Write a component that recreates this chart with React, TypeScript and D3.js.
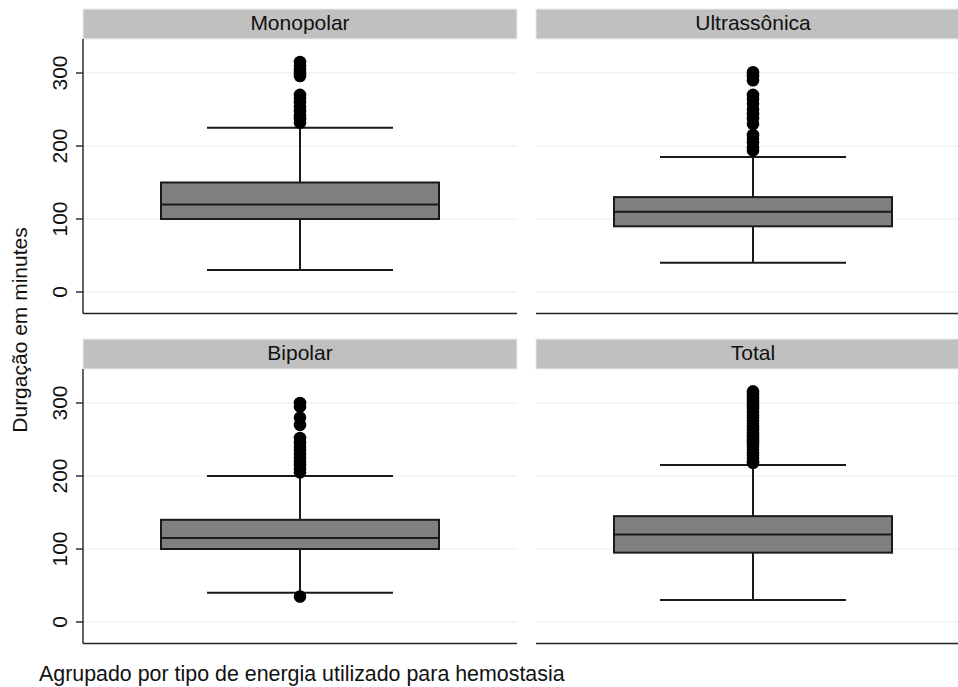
import * as d3 from "d3";

// panels in reading order (row by row)
const panelNames = ["Monopolar", "Ultrassônica", "Bipolar", "Total"];

// box statistics, minutes
const lowerWhisker = [30, 40, 40, 30];
const quartile1 = [100, 90, 100, 95];
const medians = [120, 110, 115, 120];
const quartile3 = [150, 130, 140, 145];
const upperWhisker = [225, 185, 200, 215];

// outside values
const outliersMonopolar = [315, 310, 305, 300, 296, 270, 265, 260, 254, 248, 242, 237, 232];
const outliersUltrassonica = [301, 296, 290, 270, 264, 258, 250, 244, 238, 230, 215, 210, 205, 198, 194];
const outliersBipolar = [300, 295, 280, 270, 252, 246, 240, 235, 230, 225, 220, 215, 210, 205, 35];
const outliersTotal = [
  316, 312, 308, 304, 300, 296, 292, 288, 284, 280, 276, 272, 268, 264, 260, 256,
  252, 248, 244, 240, 236, 232, 228, 224, 220, 218,
];
const outliers = [outliersMonopolar, outliersUltrassonica, outliersBipolar, outliersTotal];

const yTicks = [0, 100, 200, 300];

const yTitle = "Durgação em minutes";
const caption = "Agrupado por tipo de energia utilizado para hemostasia";

const W = 958;
const H = 687;
const FONT = "'Liberation Sans', Arial, Helvetica, sans-serif";

const colLeft = [83, 536];
const rowTop = [9, 339];
const panelW = 434;
const stripH = 30;
const plotH = 274.5;

function Panel({ i }: { i: number }) {
  const col = i % 2;
  const row = Math.floor(i / 2);
  const left = colLeft[col];
  const top = rowTop[row];
  const plotTop = top + stripH;

  const y = d3.scaleLinear().domain([-29.45, 346.6]).range([plotTop + plotH, plotTop]);
  const x = d3.scaleLinear().domain([0, 1]).range([left, left + panelW]);
  const cx = x(0.5);
  const boxHalf = 139;
  const capHalf = 93;

  return (
    <g>
      {/* strip */}
      <rect x={left} y={top} width={panelW} height={stripH} fill="#c0c0c0" stroke="#e4eef0" strokeWidth={1} />
      <text x={cx} y={top + 20.5} textAnchor="middle" fontSize={21} fontFamily={FONT} fill="#111">
        {panelNames[i]}
      </text>

      {/* grid */}
      {yTicks.map((t) => (
        <line key={t} x1={left} x2={left + panelW} y1={y(t)} y2={y(t)} stroke="#e3edf1" strokeWidth={1.2} />
      ))}

      {/* axes */}
      <line x1={left} x2={left + panelW} y1={plotTop + plotH} y2={plotTop + plotH} stroke="#222" strokeWidth={1.4} />
      {col === 0 && (
        <g>
          <line x1={left} x2={left} y1={plotTop} y2={plotTop + plotH} stroke="#222" strokeWidth={1.4} />
          {yTicks.map((t) => (
            <g key={t}>
              <line x1={left - 7} x2={left} y1={y(t)} y2={y(t)} stroke="#222" strokeWidth={1.4} />
              <text
                transform={`translate(${left - 16},${y(t)}) rotate(-90)`}
                textAnchor="middle"
                fontSize={21}
                fontFamily={FONT}
                fill="#111"
              >
                {t}
              </text>
            </g>
          ))}
        </g>
      )}

      {/* whiskers */}
      <line x1={cx} x2={cx} y1={y(upperWhisker[i])} y2={y(quartile3[i])} stroke="#1a1a1a" strokeWidth={2} />
      <line x1={cx} x2={cx} y1={y(quartile1[i])} y2={y(lowerWhisker[i])} stroke="#1a1a1a" strokeWidth={2} />
      <line x1={cx - capHalf} x2={cx + capHalf} y1={y(upperWhisker[i])} y2={y(upperWhisker[i])} stroke="#1a1a1a" strokeWidth={2} />
      <line x1={cx - capHalf} x2={cx + capHalf} y1={y(lowerWhisker[i])} y2={y(lowerWhisker[i])} stroke="#1a1a1a" strokeWidth={2} />

      {/* box */}
      <rect
        x={cx - boxHalf}
        y={y(quartile3[i])}
        width={boxHalf * 2}
        height={y(quartile1[i]) - y(quartile3[i])}
        fill="#808080"
        stroke="#1a1a1a"
        strokeWidth={2}
      />
      <line x1={cx - boxHalf} x2={cx + boxHalf} y1={y(medians[i])} y2={y(medians[i])} stroke="#1a1a1a" strokeWidth={2} />

      {/* outside values */}
      {outliers[i].map((v, k) => (
        <circle key={k} cx={cx} cy={y(v)} r={6.3} fill="#000" />
      ))}
    </g>
  );
}

export default function App() {
  return (
    <svg
      width={W}
      height={H}
      viewBox={`0 0 ${W} ${H}`}
      style={{ position: "absolute", left: 0, top: 0, background: "#fff", display: "block" }}
    >
      <rect width={W} height={H} fill="#fff" />
      {panelNames.map((_, i) => (
        <Panel key={i} i={i} />
      ))}
      <text transform={`translate(27,330) rotate(-90)`} textAnchor="middle" fontSize={21} fontFamily={FONT} fill="#111">
        {yTitle}
      </text>
      <text x={39} y={681} fontSize={21.4} fontFamily={FONT} fill="#111">
        {caption}
      </text>
    </svg>
  );
}
